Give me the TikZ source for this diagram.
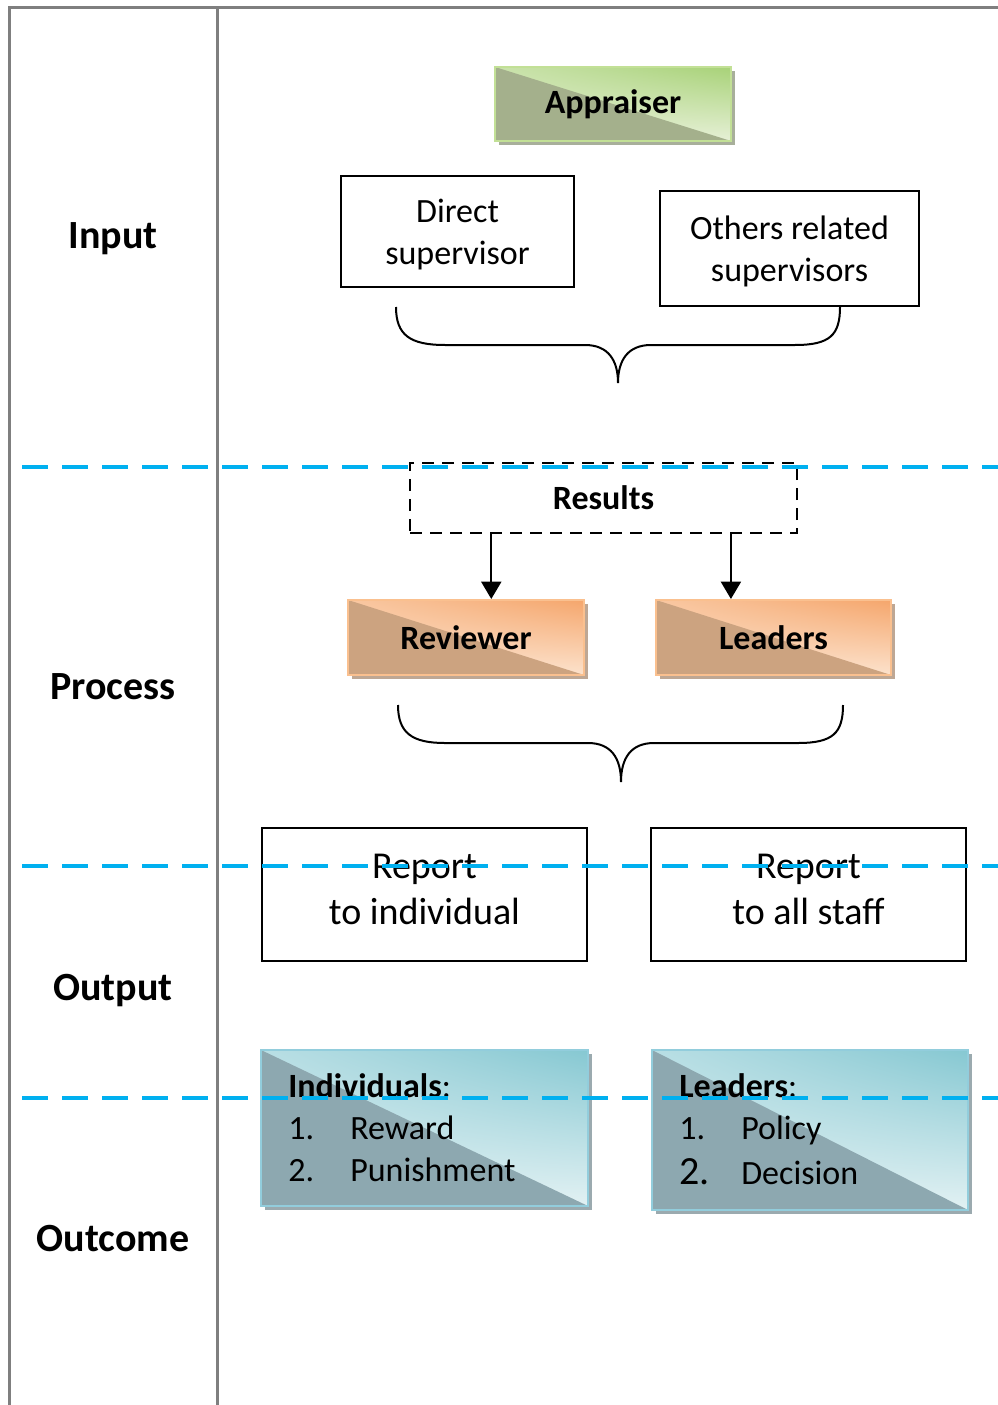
\documentclass[tikz,border=0pt]{standalone}
\usepackage{fontspec}
\setmainfont{Carlito}
\usetikzlibrary{calc, shadows, shadings, arrows.meta}

\definecolor{lanecol}{HTML}{7F7F7F}
\definecolor{dashblue}{HTML}{00B0F0}
\definecolor{grdark}{RGB}{164,176,140}
\definecolor{grlight}{RGB}{230,240,214}
\definecolor{grtop}{RGB}{168,210,120}
\definecolor{grline}{RGB}{194,224,150}
\definecolor{ordark}{RGB}{204,163,128}
\definecolor{orlight}{RGB}{252,226,204}
\definecolor{ortop}{RGB}{245,166,108}
\definecolor{orline}{RGB}{250,192,143}
\definecolor{tedark}{RGB}{141,168,176}
\definecolor{telight}{RGB}{226,241,243}
\definecolor{tetop}{RGB}{134,200,210}
\definecolor{teline}{RGB}{146,205,220}

\begin{document}
\begin{tikzpicture}[x=0.75pt, y=-0.75pt,
	every node/.style={font=\fontsize{25.5}{31.5}\selectfont, inner sep=0pt},
	rowlabel/.style={font=\fontsize{30}{36}\selectfont\bfseries},
	plainbox/.style={draw, line width=1.5pt, align=center},
	sepline/.style={dashblue, line width=3pt, dash pattern=on 19.5pt off 10.5pt},
	brace/.style={line width=1.5pt},
	arr/.style={line width=1.5pt, -{Triangle[width=15pt,length=13pt]}},
	shinebox/.style n args={4}{draw=#4, line width=1.5pt,
		font=\fontsize{25.5}{31.5}\selectfont\bfseries,
		drop shadow={shadow xshift=3pt, shadow yshift=-3pt, fill=#1!80!black, opacity=0.7},
		path picture={
			\shade[upper right=#3, upper left=#2!55!#3, lower right=#2, lower left=#2]
				(path picture bounding box.south west) rectangle (path picture bounding box.north east);
			\fill[#1] (path picture bounding box.north west) -- (path picture bounding box.south east)
				-- (path picture bounding box.south west) -- cycle;
		}},
	]
	\useasboundingbox (0,0) rectangle (998,1405);

	% lanes
	\draw[lanecol, line width=2.25pt] (9,1405) -- (9,8) -- (998,8);
	\draw[lanecol, line width=2.25pt] (217,8) -- (217,1405);

	\node[rowlabel] (inlab) at (113,239) {Input};
	\node[rowlabel] (prlab) at (113,687) {Process};
	\node[rowlabel] (outlab) at (113,991) {Output};
	\node[rowlabel] (oclab) at (113,1239) {Outcome};

	% input
	\node[shinebox={grdark}{grlight}{grtop}{grline}, minimum width=177pt, minimum height=55.5pt] (appr) at (613,104) {Appraiser};
	\node[plainbox, minimum width=174.75pt, minimum height=83.25pt] (dsup) at (457.5,231.5) {};
	\node[align=center] (dsuptxt) at (457.5,235) {Direct\\supervisor};
	\node[plainbox, minimum width=194.25pt, minimum height=86.25pt] (osup) at (789.5,248.5) {};
	\node[align=center] (osuptxt) at (789.5,251) {Others related\\supervisors};
	\draw[brace] (396,307) .. controls (396,335) and (410,345) .. (445,345) -- (585,345)
		.. controls (608,345) and (618,360) .. (618,383)
		.. controls (618,360) and (628,345) .. (651,345) -- (795,345)
		.. controls (830,345) and (840,335) .. (840,307);

	% process
	\node[draw, line width=2pt, dash pattern=on 9pt off 6pt, minimum width=290.25pt, minimum height=52.5pt,
		font=\fontsize{25.5}{31.5}\selectfont\bfseries] (res) at (603.5,498) {Results};
	\node[shinebox={ordark}{orlight}{ortop}{orline}, minimum width=177pt, minimum height=56.25pt] (rev) at (466,637.5) {Reviewer};
	\node[shinebox={ordark}{orlight}{ortop}{orline}, minimum width=176.25pt, minimum height=56.25pt] (lead) at (773.5,637.5) {Leaders};
	\coordinate (ra) at ($(res.south west)!0.212!(res.south east)$);
	\coordinate (rb) at ($(res.south west)!0.827!(res.south east)$);
	\draw[arr] (ra) -- (ra |- rev.north);
	\draw[arr] (rb) -- (rb |- lead.north);
	\draw[brace] (398,705) .. controls (398,733) and (412,743) .. (445,743) -- (588,743)
		.. controls (611,743) and (621,758) .. (621,782)
		.. controls (621,758) and (631,743) .. (654,743) -- (798,743)
		.. controls (833,743) and (843,733) .. (843,705);

	% output
	\node[plainbox, minimum width=243.75pt, minimum height=99.75pt] (repind) at (424.5,894.5) {};
	\node[align=center, font=\fontsize{28.5}{34.5}\selectfont] (repindtxt) at (424.5,889) {Report\\to individual};
	\node[plainbox, minimum width=236.25pt, minimum height=99.75pt] (repall) at (808.5,894.5) {};
	\node[align=center, font=\fontsize{28.5}{34.5}\selectfont] (repalltxt) at (808.5,889) {Report\\to all staff};

	% outcome
	\node[shinebox={tedark}{telight}{tetop}{teline}, minimum width=245.25pt, minimum height=117pt] (indbox) at (424.5,1128) {};
	\node[anchor=west, align=left] (indtxt) at (288,1128)
		{\textbf{Individuals}:\\ \makebox[46.5pt][l]{1.}Reward\\ \makebox[46.5pt][l]{2.}Punishment};
	\node[shinebox={tedark}{telight}{tetop}{teline}, minimum width=237pt, minimum height=120pt] (leadbox) at (810,1130) {};
	\node[anchor=west, align=left] (leadtxt) at (679,1129)
		{\textbf{Leaders}:\\ \makebox[46.5pt][l]{1.}Policy\\[2pt] \makebox[46.5pt][l]{\fontsize{30}{31.5}\selectfont 2.}Decision};

	% separators
	\draw[sepline] (22,467) -- (998,467);
	\draw[sepline] (22,866) -- (998,866);
	\draw[sepline] (22,1098) -- (998,1098);
\end{tikzpicture}
\end{document}
